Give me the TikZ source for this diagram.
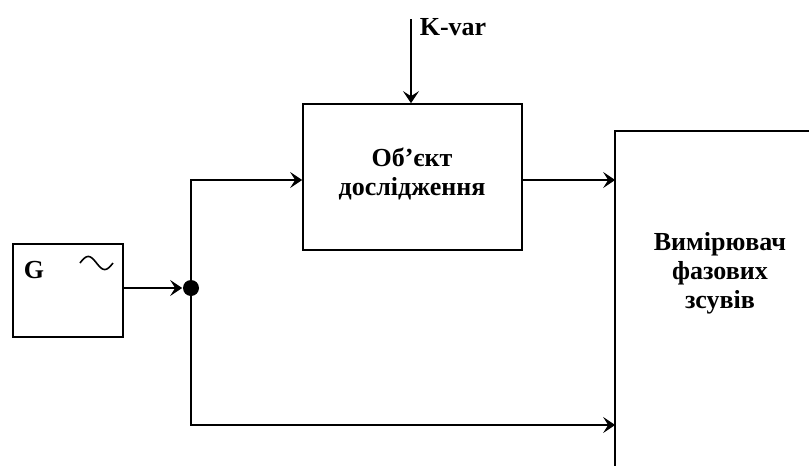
\documentclass[tikz,border=0pt]{standalone}
\usepackage{fontspec}
\setmainfont{Liberation Serif}
\usetikzlibrary{arrows.meta}
\begin{document}
\begin{tikzpicture}[x=1pt,y=-1pt,
  line width=1.7pt,
  arr/.style={-{Stealth[length=12pt,width=16pt,inset=5pt]}},
  blk/.style={draw,rectangle,inner sep=0pt},
  lbl/.style={font=\bfseries\fontsize{26}{29}\selectfont,align=center,inner sep=0pt}]
\useasboundingbox (0,0) rectangle (809,466);
% blocks
\node[blk,minimum width=110pt,minimum height=93pt] (gen) at (68,290.5) {};
\node[lbl,anchor=west] (glbl) at (23,270) {G};
\draw[line width=1.6pt] plot[domain=0:360,samples=50,variable=\t] ({80+\t/360*33},{263-6.5*sin(\t)});
\node[blk,minimum width=219pt,minimum height=146pt] (obj) at (412.5,177) {};
\node[lbl] (objt) at (412,174) {Об’єкт\\дослідження};
\node[minimum width=193pt,minimum height=334pt,inner sep=0pt] (meas) at (712.5,299) {};
\draw (meas.south west) -- (meas.north west) -- (meas.north east);
\node[lbl] (meast) at (720,273) {Вимірювач\\фазових\\зсувів};
% junction
\node[circle,fill,inner sep=0pt,minimum size=16pt] (dot) at (191,288) {};
\coordinate (b1) at (191,180);
\coordinate (b2) at (191,425);
\coordinate (kin) at (411,19);
\node[lbl,anchor=west] (kvar) at (419,27) {K-var};
% connectors
\draw[arr] (gen.east |- dot) -- (dot.west);
\draw[arr] (dot.center) -- (b1) -- (obj.west |- b1);
\draw[arr] (obj.east |- b1) -- (meas.west |- b1);
\draw[arr] (dot.center) -- (b2) -- (meas.west |- b2);
\draw[arr] (kin) -- (kin |- obj.north);
\end{tikzpicture}
\end{document}
